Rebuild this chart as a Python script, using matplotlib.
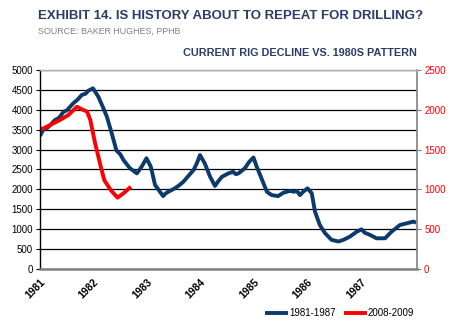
import matplotlib
matplotlib.use('Agg')
import matplotlib.pyplot as plt

plt.rcParams['font.family'] = ['Liberation Sans', 'DejaVu Sans']

# ========== Data ==========
# 1981-1987 rig count, x in years since start of 1981
blue_t = [0.00, 0.05, 0.15, 0.28, 0.36, 0.44, 0.50, 0.62, 0.70, 0.78, 0.85, 0.90, 0.99,
          1.09, 1.18, 1.25, 1.34, 1.43, 1.50, 1.56, 1.68, 1.75, 1.81, 1.90, 1.99, 2.07,
          2.15, 2.22, 2.30, 2.35, 2.40, 2.52, 2.60, 2.68, 2.75, 2.87, 2.93, 2.99,
          3.08, 3.18, 3.27, 3.33, 3.40, 3.52, 3.61, 3.66, 3.71, 3.83, 3.91, 3.99,
          4.05, 4.14, 4.24, 4.33, 4.45, 4.55, 4.67, 4.75, 4.80, 4.86, 4.92, 5.00,
          5.08, 5.14, 5.23, 5.33, 5.45, 5.58, 5.67, 5.79, 5.92, 6.01, 6.07, 6.17,
          6.29, 6.45, 6.57, 6.73, 6.85, 6.98, 7.03]
blue_rigs = [3340, 3480, 3560, 3740, 3800, 3950, 3980, 4160, 4250, 4370, 4400, 4475, 4535,
             4325, 4050, 3820, 3405, 2970, 2880, 2735, 2530, 2460, 2400, 2570, 2780, 2570,
             2110, 1980, 1830, 1900, 1940, 2025, 2100, 2190, 2300, 2485, 2650, 2860,
             2650, 2315, 2085, 2200, 2315, 2400, 2440, 2380, 2400, 2530, 2690, 2800,
             2570, 2275, 1940, 1855, 1830, 1915, 1960, 1940, 1960, 1855, 1940, 2025,
             1900, 1440, 1105, 895, 730, 690, 730, 810, 935, 995, 910, 855,
             770, 770, 935, 1105, 1145, 1190, 1160]

# 2008-2009 rig count (right axis), same x offset
red_t = [0.00, 0.05, 0.19, 0.37, 0.53, 0.69, 0.78, 0.88, 0.94, 1.03, 1.12, 1.20, 1.32, 1.45, 1.56, 1.70]
red_rigs = [1765, 1760, 1807, 1870, 1933, 2037, 2005, 1975, 1870, 1577, 1327, 1117, 992, 895, 950, 1033]

years = ['1981', '1982', '1983', '1984', '1985', '1986', '1987']

navy = '#0b3a6b'
title_col = '#2b3c66'

# ========== Plot ==========
fig = plt.figure(figsize=(4.5, 3.28), dpi=100)
ax = fig.add_axes([0.089, 0.180, 0.838, 0.607])
ax2 = ax.twinx()

l1, = ax.plot(blue_t, blue_rigs, color=navy, linewidth=2.8, label='1981-1987', solid_capstyle='butt')
l2, = ax2.plot(red_t, red_rigs, color='#ff0000', linewidth=2.8, label='2008-2009', solid_capstyle='butt')

ax.set_xlim(0, 7.05)
ax.set_ylim(0, 5000)
ax2.set_ylim(0, 2500)
ax.set_yticks(range(0, 5001, 500))
ax2.set_yticks(range(0, 2501, 500))
ax.yaxis.grid(True, color='black', linewidth=0.9)
ax.set_axisbelow(True)

ax.set_xticks(range(len(years)))
ax.set_xticklabels(years, rotation=45, ha='right', rotation_mode='anchor', fontsize=7.5, fontweight='bold')
ax.tick_params(axis='x', length=0, pad=6)
ax.tick_params(axis='y', labelsize=7, length=3, width=0.8, pad=2)
ax2.tick_params(axis='y', labelsize=7, length=3, width=0.8, colors='#7f7f7f', labelcolor='#ff0000', pad=2)

for sp in ax.spines.values():
    sp.set_visible(False)
ax2.spines['left'].set_color('black')
ax2.spines['left'].set_linewidth(1.0)
ax2.spines['bottom'].set_color('#808080')
ax2.spines['bottom'].set_linewidth(1.8)
ax2.spines['right'].set_color('#808080')
ax2.spines['right'].set_linewidth(1.2)
ax2.spines['top'].set_color('#b0b0b0')
ax2.spines['top'].set_linewidth(1.0)

fig.legend(handles=[l1, l2], loc='center', bbox_to_anchor=(0.755, 0.045), ncol=2, frameon=False,
           fontsize=7, handlelength=2.4, handletextpad=0.1, columnspacing=0.8)

fig.text(0.084, 0.952, 'EXHIBIT 14. IS HISTORY ABOUT TO REPEAT FOR DRILLING?',
         fontsize=9.5, fontweight='bold', color=title_col, va='center')
fig.text(0.084, 0.905, 'SOURCE: BAKER HUGHES, PPHB', fontsize=6.4, color='#7f7f7f', va='center')
fig.text(0.927, 0.838, 'CURRENT RIG DECLINE VS. 1980S PATTERN',
         fontsize=7.8, fontweight='bold', color=title_col, va='center', ha='right')

plt.savefig('out.png', dpi=100)
